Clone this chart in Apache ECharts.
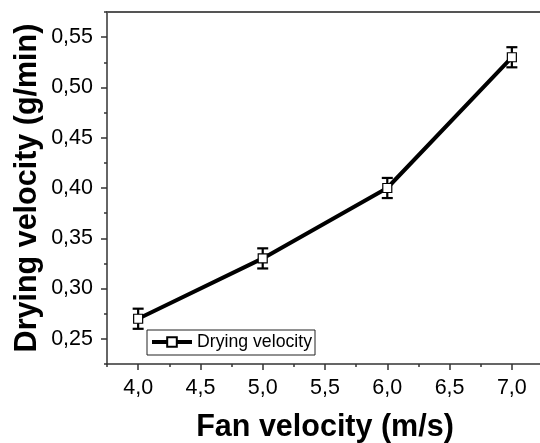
<!DOCTYPE html>
<html><head><meta charset="utf-8">
<script src="https://cdn.jsdelivr.net/npm/echarts@6/dist/echarts.min.js"></script>
<style>html,body{margin:0;padding:0;background:#fff;}#c{width:540px;height:443px;}</style>
</head><body><div id="c"></div>
<script>
// Data
var fanVelocity = [4.0, 5.0, 6.0, 7.0];
var dryingVelocity = [0.27, 0.33, 0.40, 0.53];
var dryingError = [0.01, 0.01, 0.01, 0.01];
var xTicks = [4.0, 4.5, 5.0, 5.5, 6.0, 6.5, 7.0];
var yTicks = [0.25, 0.30, 0.35, 0.40, 0.45, 0.50, 0.55];
var seriesName = 'Drying velocity';
var xTitle = 'Fan velocity (m/s)';
var yTitle = 'Drying velocity (g/min)';

var FONT = 'Liberation Sans, Arial, sans-serif';
var lineData = fanVelocity.map(function (x, i) { return [x, dryingVelocity[i]]; });
var errData = fanVelocity.map(function (x, i) { return [x, dryingVelocity[i] - dryingError[i], dryingVelocity[i] + dryingError[i]]; });

var axisCol = '#333';
var chart = echarts.init(document.getElementById('c'), null, {renderer: 'canvas'});
chart.setOption({
  animation: false,
  backgroundColor: '#fff',
  grid: {left: 107, top: 12, width: 436, height: 352, containLabel: false, outerBoundsMode: 'none'},
  legend: {
    data: [seriesName], left: 147, top: 330, orient: 'horizontal',
    itemWidth: 40, itemHeight: 12, itemGap: 5,
    padding: [3, 3, 4, 3],
    borderColor: '#222', borderWidth: 1, backgroundColor: '#fff',
    lineStyle: {width: 4, color: '#000'},
    textStyle: {fontFamily: FONT, fontSize: 17.7, color: '#000'}
  },
  xAxis: [
    {type: 'value', position: 'bottom', min: 3.75, max: 7.25, interval: 0.25,
     axisLine: {show: true, lineStyle: {color: axisCol, width: 1.5}},
     axisTick: {show: true, inside: false, length: 3, lineStyle: {color: axisCol, width: 1.5}},
     axisLabel: {show: false}, splitLine: {show: false},
     name: xTitle, nameLocation: 'middle', nameGap: 48,
     nameTextStyle: {fontFamily: FONT, fontSize: 30.5, fontWeight: 'bold', color: '#000'}},
    {type: 'value', position: 'bottom', min: 3.75, max: 7.25, interval: 0.25,
     axisLine: {show: false},
     axisTick: {show: true, inside: false, length: 6, customValues: xTicks, lineStyle: {color: axisCol, width: 1.5}},
     axisLabel: {show: true, customValues: xTicks, margin: 13, fontFamily: FONT, fontSize: 21.5, color: '#000',
       formatter: function (v) { return v.toFixed(1).replace('.', ','); }},
     splitLine: {show: false}},
    {type: 'value', position: 'top', min: 3.75, max: 7.25, interval: 0.25,
     axisLine: {show: true, lineStyle: {color: '#555', width: 2}},
     axisTick: {show: false}, axisLabel: {show: false}, splitLine: {show: false}}
  ],
  yAxis: [
    {type: 'value', position: 'left', min: 0.225, max: 0.575, interval: 0.025,
     axisLine: {show: true, lineStyle: {color: axisCol, width: 1.5}},
     axisTick: {show: true, inside: false, length: 3, lineStyle: {color: axisCol, width: 1.5}},
     axisLabel: {show: false}, splitLine: {show: false},
     name: yTitle, nameLocation: 'middle', nameGap: 64, nameRotate: 90,
     nameTextStyle: {fontFamily: FONT, fontSize: 30.5, fontWeight: 'bold', color: '#000'}},
    {type: 'value', position: 'left', min: 0.225, max: 0.575, interval: 0.025,
     axisLine: {show: false},
     axisTick: {show: true, inside: false, length: 6, customValues: yTicks, lineStyle: {color: axisCol, width: 1.5}},
     axisLabel: {show: true, customValues: yTicks, margin: 14, fontFamily: FONT, fontSize: 21.5, color: '#000',
       formatter: function (v) { return v.toFixed(2).replace('.', ','); }},
     splitLine: {show: false}}
  ],
  series: [
    {type: 'custom', name: 'err', xAxisIndex: 0, yAxisIndex: 0, z: 2,
     data: errData,
     renderItem: function (params, api) {
       var x = api.value(0);
       var lo = api.coord([x, api.value(1)]);
       var hi = api.coord([x, api.value(2)]);
       var hw = 5.5;
       var st = {stroke: '#000', lineWidth: 2.2};
       return {type: 'group', children: [
         {type: 'line', shape: {x1: lo[0], y1: lo[1], x2: hi[0], y2: hi[1]}, style: st},
         {type: 'line', shape: {x1: lo[0] - hw, y1: lo[1], x2: lo[0] + hw, y2: lo[1]}, style: st},
         {type: 'line', shape: {x1: hi[0] - hw, y1: hi[1], x2: hi[0] + hw, y2: hi[1]}, style: st}
       ]};
     }},
    {type: 'line', name: seriesName, xAxisIndex: 0, yAxisIndex: 0, z: 3,
     data: lineData,
     symbol: 'rect', symbolSize: 9, showAllSymbol: true,
     lineStyle: {color: '#000', width: 4},
     itemStyle: {color: '#fff', borderColor: '#000', borderWidth: 1.2}}
  ]
});
</script></body></html>
